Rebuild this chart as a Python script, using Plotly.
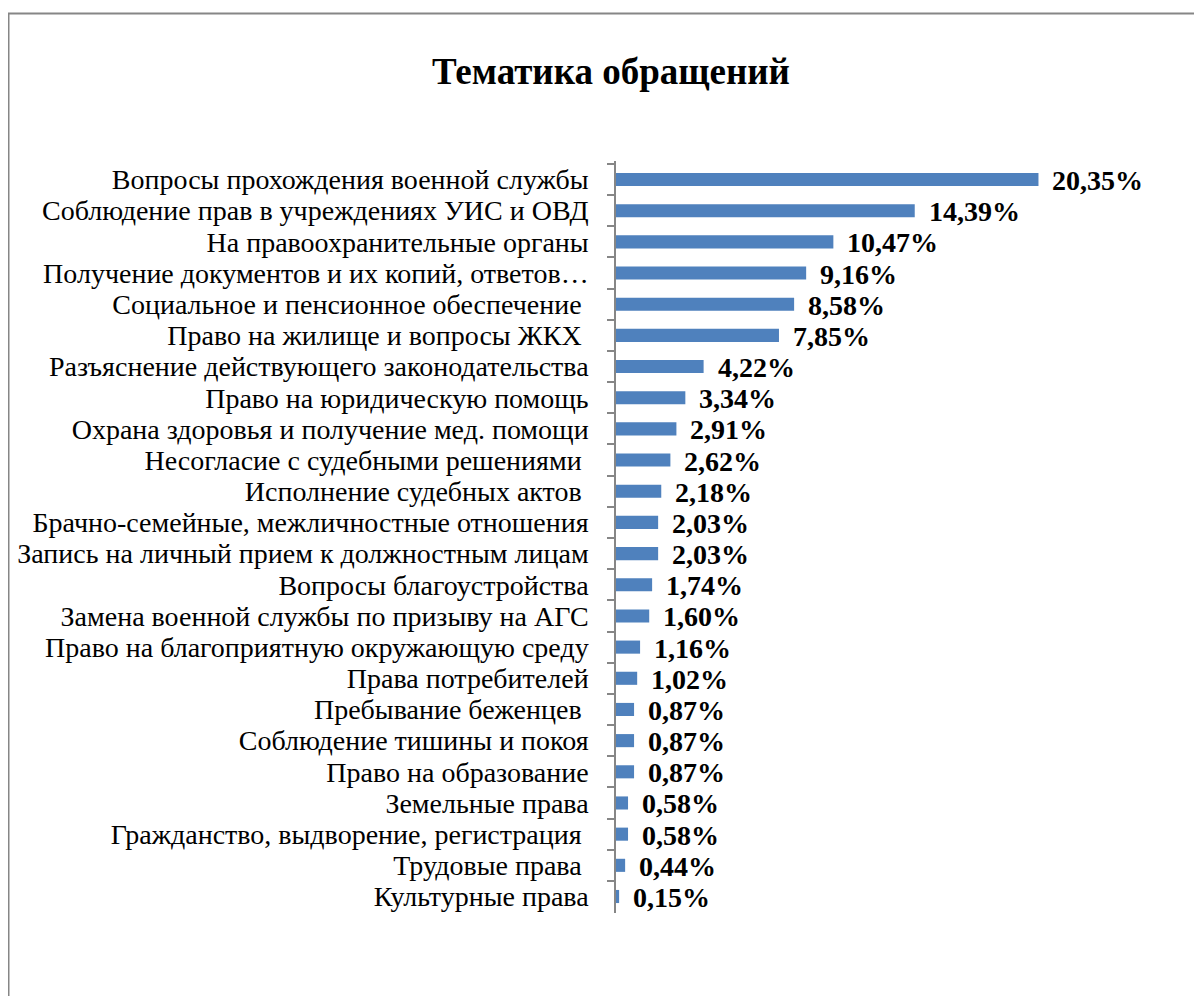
import plotly.graph_objects as go

categories = [
    "Вопросы прохождения военной службы",
    "Соблюдение прав в учреждениях УИС и ОВД",
    "На правоохранительные органы",
    "Получение документов и их копий, ответов…",
    "Социальное и пенсионное обеспечение ",
    "Право на жилище и вопросы ЖКХ ",
    "Разъяснение действующего законодательства",
    "Право на юридическую помощь",
    "Охрана здоровья и получение мед. помощи",
    "Несогласие с судебными решениями ",
    "Исполнение судебных актов ",
    "Брачно-семейные, межличностные отношения",
    "Запись на личный прием к должностным лицам",
    "Вопросы благоустройства",
    "Замена военной службы по призыву на АГС",
    "Право на благоприятную окружающую среду",
    "Права потребителей",
    "Пребывание беженцев ",
    "Соблюдение тишины и покоя",
    "Право на образование",
    "Земельные права",
    "Гражданство, выдворение, регистрация ",
    "Трудовые права ",
    "Культурные права",
]
values = [20.35, 14.39, 10.47, 9.16, 8.58, 7.85, 4.22, 3.34, 2.91, 2.62, 2.18,
          2.03, 2.03, 1.74, 1.60, 1.16, 1.02, 0.87, 0.87, 0.87, 0.58, 0.58, 0.44, 0.15]
value_labels = [f"{v:.2f}%".replace(".", ",") for v in values]

FONT = "Liberation Serif, Times New Roman, serif"
W, H = 1202, 996
# page body has an 8px margin, so figure coords = screen coords - 8
OFF = 8
L, R, T, B = 616 - OFF, 1135 - OFF, 161 - OFF, 913 - OFF

fig = go.Figure()
fig.add_trace(go.Bar(
    x=values, y=categories, orientation="h",
    marker=dict(color="#4F81BD", line=dict(width=0)),
    width=0.42, hoverinfo="skip",
))

for c, v, t in zip(categories, values, value_labels):
    fig.add_annotation(x=v, y=c, text=f"<b>{t}</b>", showarrow=False,
                       xanchor="left", xshift=12, yshift=-1,
                       font=dict(family=FONT, size=28, color="black"))

pw = R - L
ph = B - T
def px2paper_x(px):
    return (px - OFF - L) / pw
def px2paper_y(py):
    return (B - (py - OFF)) / ph

fig.add_shape(type="rect", xref="paper", yref="paper",
              x0=px2paper_x(8.5), x1=px2paper_x(1215),
              y0=px2paper_y(1015), y1=px2paper_y(13.5),
              line=dict(color="#868686", width=2), layer="below")

fig.add_annotation(xref="paper", yref="paper",
                   x=px2paper_x(611), y=px2paper_y(72),
                   text="<b>Тематика обращений</b>", showarrow=False,
                   xanchor="center", yanchor="middle",
                   font=dict(family=FONT, size=37, color="black"))

fig.update_layout(
    width=W, height=H,
    margin=dict(l=L, r=W - R, t=T, b=H - B, autoexpand=False),
    paper_bgcolor="white", plot_bgcolor="white",
    showlegend=False,
    font=dict(family=FONT, size=28, color="black"),
    xaxis=dict(range=[0, 25], showgrid=False, zeroline=False,
               showticklabels=False, showline=False, ticks=""),
    yaxis=dict(autorange="reversed", type="category",
               tickmode="linear", dtick=1,
               showline=True, linecolor="#868686", linewidth=1.5,
               ticks="outside", tickson="boundaries", ticklen=7,
               tickcolor="#868686", tickwidth=1.5,
               ticklabelstandoff=20,
               tickfont=dict(family=FONT, size=28, color="black"),
               showgrid=False),
)

fig.write_html("out.html")
